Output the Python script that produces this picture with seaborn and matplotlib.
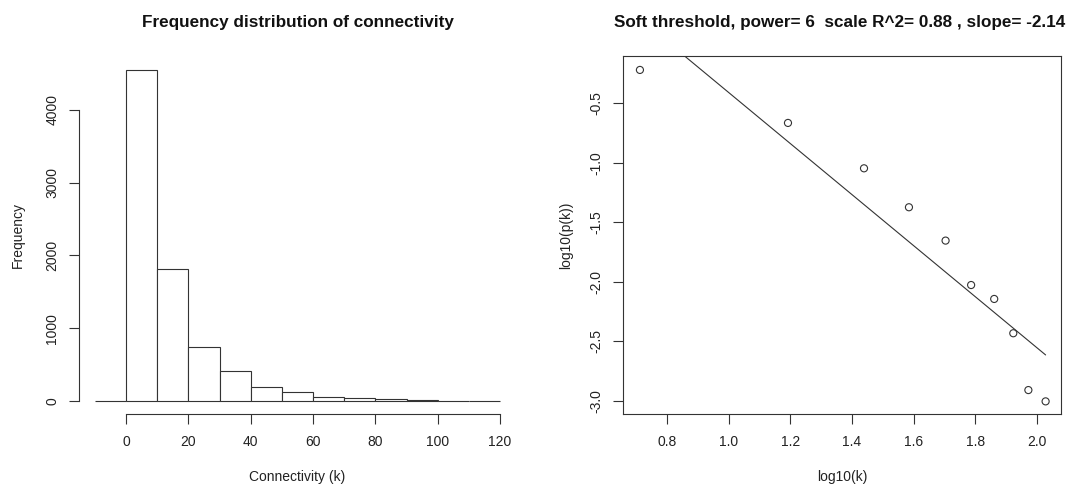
import numpy as np
import pandas as pd
import matplotlib
matplotlib.use("Agg")
import matplotlib.pyplot as plt
import seaborn as sns

# Histogram of connectivity: bin edges and counts per bin
bin_edges = [-10, 0, 10, 20, 30, 40, 50, 60, 70, 80, 90, 100, 110, 120]
bin_counts = [0, 4550, 1815, 748, 418, 195, 125, 53, 40, 27, 9, 5, 2]

# Scale-free fit: log10 of binned connectivity vs log10 of its frequency
log10_k = [0.711, 1.192, 1.439, 1.585, 1.704, 1.787, 1.862, 1.924, 1.973, 2.029]
log10_pk = [-0.220, -0.665, -1.046, -1.373, -1.653, -2.026, -2.143, -2.431, -2.908, -3.003]
fit_slope = -2.14
fit_intercept = 1.729
fit_r2 = 0.88
soft_power = 6

x_ticks_hist = [0, 20, 40, 60, 80, 100, 120]
y_ticks_hist = [0, 1000, 2000, 3000, 4000]
x_ticks_fit = [0.8, 1.0, 1.2, 1.4, 1.6, 1.8, 2.0]
y_ticks_fit = [-0.5, -1.0, -1.5, -2.0, -2.5, -3.0]

sns.set_theme(style="white")
plt.rcParams["font.family"] = ["Liberation Sans", "DejaVu Sans"]

W, H = 1069, 484
fig = plt.figure(figsize=(W / 100, H / 100), dpi=100)
fig.patch.set_facecolor("white")

def frac_axes(x0, y0, x1, y1):
    return fig.add_axes([x0 / W, 1 - y1 / H, (x1 - x0) / W, (y1 - y0) / H])

line_col = "#333333"
tick_kw = dict(length=7, width=0.8, color=line_col, labelsize=10, labelcolor="#222222",
               direction="out")

# ---- left panel: histogram ----
ax1 = frac_axes(78.8, 56.7, 516.2, 414.2)
hist_df = pd.DataFrame({
    "mid": [(a + b) / 2 for a, b in zip(bin_edges[:-1], bin_edges[1:])],
    "count": bin_counts,
})
sns.histplot(data=hist_df, x="mid", weights="count", bins=bin_edges, ax=ax1,
             color="white", edgecolor=line_col, linewidth=0.8, alpha=1, stat="count")
ax1.set_xlim(-15.2, 125.2)
ax1.set_ylim(-182, 4732)
for s in ["top", "right"]:
    ax1.spines[s].set_visible(False)
ax1.spines["left"].set_bounds(0, 4000)
ax1.spines["bottom"].set_bounds(0, 120)
for s in ["left", "bottom"]:
    ax1.spines[s].set_color(line_col)
    ax1.spines[s].set_linewidth(0.8)
ax1.set_xticks(x_ticks_hist)
ax1.set_yticks(y_ticks_hist)
ax1.set_xticklabels([str(v) for v in x_ticks_hist])
ax1.set_yticklabels([str(v) for v in y_ticks_hist], rotation=90, va="center")
ax1.tick_params(axis="x", bottom=True, pad=8, **tick_kw)
ax1.tick_params(axis="y", left=True, pad=7, **tick_kw)
ax1.set_xlabel("Connectivity (k)", fontsize=10, color="#222222")
ax1.set_ylabel("Frequency", fontsize=10, color="#222222")
ax1.xaxis.set_label_coords(0.5, (414.2 - 477) / (414.2 - 56.7))
ax1.xaxis.label.set_va("center")
ax1.yaxis.set_label_coords((18 - 78.8) / (516.2 - 78.8), 0.5)
ax1.yaxis.label.set_va("center")
ax1.grid(False)

# ---- right panel: scale-free topology fit ----
ax2 = frac_axes(623, 56, 1061, 414)
fit_df = pd.DataFrame({"log10_k": log10_k, "log10_pk": log10_pk})
sns.scatterplot(data=fit_df, x="log10_k", y="log10_pk", ax=ax2, marker="o",
                s=26, facecolor="none", edgecolor=line_col, linewidth=0.8)
line_x = np.array([min(log10_k), max(log10_k)])
line_df = pd.DataFrame({"x": line_x, "y": fit_intercept + fit_slope * line_x})
sns.lineplot(data=line_df, x="x", y="y", ax=ax2, color=line_col, linewidth=0.8)
ax2.set_xlim(0.656, 2.079)
ax2.set_ylim(-3.109, -0.103)
for s in ax2.spines.values():
    s.set_color(line_col)
    s.set_linewidth(0.8)
ax2.set_xticks(x_ticks_fit)
ax2.set_yticks(y_ticks_fit)
ax2.set_xticklabels([f"{v:.1f}" for v in x_ticks_fit])
ax2.set_yticklabels([f"{v:.1f}" for v in y_ticks_fit], rotation=90, va="center")
ax2.tick_params(axis="x", bottom=True, pad=8, **tick_kw)
ax2.tick_params(axis="y", left=True, pad=7, **tick_kw)
ax2.set_xlabel("log10(k)", fontsize=10, color="#222222")
ax2.set_ylabel("log10(p(k))", fontsize=10, color="#222222")
ax2.xaxis.set_label_coords(0.5, (414 - 477) / (414 - 56))
ax2.xaxis.label.set_va("center")
ax2.yaxis.set_label_coords((566 - 623) / (1061 - 623), 0.5)
ax2.yaxis.label.set_va("center")
ax2.grid(False)

# ---- titles ----
fig.text(297.5 / W, 1 - 22 / H, "Frequency distribution of connectivity",
         ha="center", va="center", fontsize=12.3, fontweight="bold", color="#111111")
fig.text(840 / W, 1 - 22 / H,
         f"Soft threshold, power= {soft_power}  scale R^2= {fit_r2:.2f} , slope= {fit_slope:.2f}",
         ha="center", va="center", fontsize=12.3, fontweight="bold", color="#111111")

fig.savefig("out.png", dpi=100, facecolor="white")
